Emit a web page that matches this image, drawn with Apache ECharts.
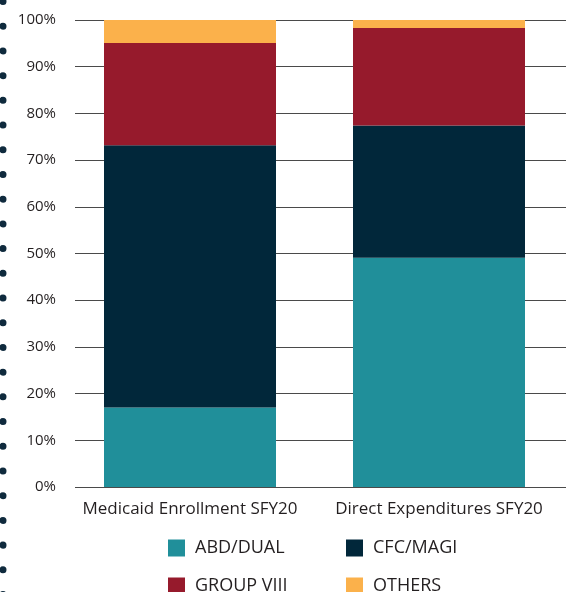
<!DOCTYPE html>
<html>
<head>
<meta charset="utf-8">
<script src="https://cdn.jsdelivr.net/npm/echarts@6/dist/echarts.min.js"></script>
<style>
  html, body { margin: 0; padding: 0; background: #fff; }
  #chart { width: 566px; height: 592px; }
</style>
</head>
<body>
<div id="chart"></div>
<script>
// categories and data (percent of total)
var categories = ["Medicaid Enrollment SFY20", "Direct Expenditures SFY20"];
var abdDual = [17.0, 49.1];
var cfcMagi = [56.2, 28.3];
var groupVIII = [21.9, 20.9];
var others = [4.9, 1.7];
var yTicks = [0, 10, 20, 30, 40, 50, 60, 70, 80, 90, 100];

var colors = {
  abd: "#208f9a",
  cfc: "#01273a",
  grp: "#961a2c",
  oth: "#fbb14b"
};
var font = "'Open Sans', sans-serif";
var textColor = "#231f20";

var myChart = echarts.init(document.getElementById("chart"));

function barSeries(name, data, color) {
  return {
    name: name,
    type: "bar",
    stack: "total",
    xAxisIndex: 1,
    yAxisIndex: 1,
    barWidth: 172,
    itemStyle: { color: color },
    data: data
  };
}

// one legend per item so the 2x2 layout lines up in columns
function legendItem(name, left, top) {
  return {
    left: left,
    top: top,
    itemWidth: 17,
    itemHeight: 17,
    icon: "rect",
    data: [name],
    textStyle: { fontFamily: font, fontSize: 18, color: textColor, padding: [0, 0, 0, 5] }
  };
}

myChart.setOption({
  animation: false,
  // dotted decoration on the left edge
  graphic: [
    {
      type: "line",
      shape: { x1: 3, y1: 1.5, x2: 3, y2: 600 },
      style: {
        stroke: "#0f2a3d",
        lineWidth: 7,
        lineCap: "round",
        lineDash: [0.01, 24.7]
      },
      silent: true
    }
  ],
  // grid 0 carries the gridlines and % labels, grid 1 the bars
  grid: [
    { left: 75, right: 0, top: 20, height: 467 },
    { left: 65.5, width: 498, top: 20, height: 467 }
  ],
  legend: [
    legendItem("ABD/DUAL", 163, 534),
    legendItem("CFC/MAGI", 341, 534),
    legendItem("GROUP VIII", 163, 572),
    legendItem("OTHERS", 341, 572)
  ],
  xAxis: [
    {
      gridIndex: 0,
      type: "category",
      data: categories,
      show: false
    },
    {
      gridIndex: 1,
      type: "category",
      data: categories,
      axisLine: { show: false },
      axisTick: { show: false },
      axisLabel: {
        interval: 0,
        margin: 14,
        fontFamily: font,
        fontSize: 17,
        color: textColor
      }
    }
  ],
  yAxis: [
    {
      gridIndex: 0,
      type: "value",
      min: yTicks[0],
      max: yTicks[yTicks.length - 1],
      interval: 10,
      axisLine: { show: false },
      axisTick: { show: false },
      axisLabel: {
        margin: 19,
        fontFamily: font,
        fontSize: 15,
        color: textColor,
        formatter: "{value}%"
      },
      splitLine: { lineStyle: { color: "#4a4a4a", width: 1 } }
    },
    {
      gridIndex: 1,
      type: "value",
      min: 0,
      max: 100,
      show: false,
      splitLine: { show: false }
    }
  ],
  series: [
    barSeries("ABD/DUAL", abdDual, colors.abd),
    barSeries("CFC/MAGI", cfcMagi, colors.cfc),
    barSeries("GROUP VIII", groupVIII, colors.grp),
    barSeries("OTHERS", others, colors.oth)
  ]
});
</script>
</body>
</html>
